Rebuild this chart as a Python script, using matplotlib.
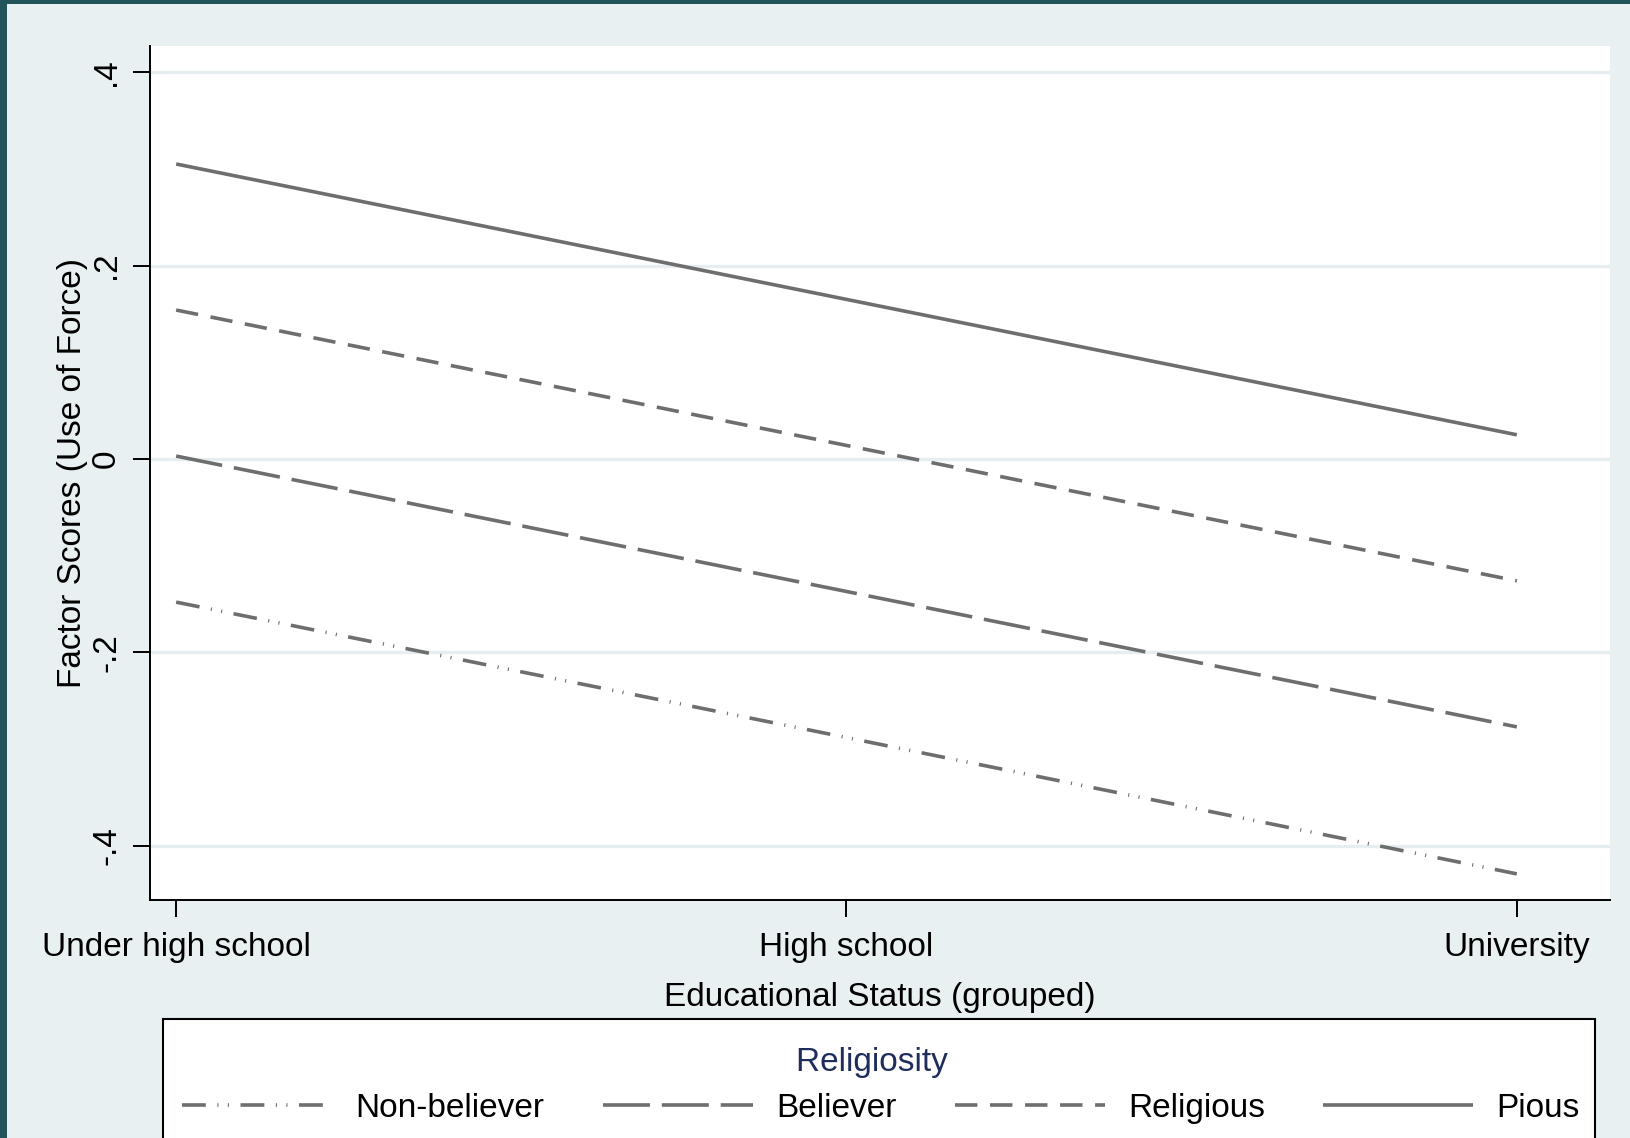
import matplotlib.pyplot as plt
from matplotlib.patches import Rectangle

plt.rcParams['font.family'] = ['Liberation Sans', 'DejaVu Sans']

# predicted factor scores by education, one series per religiosity group
education = ['Under high school', 'High school', 'University']
groups = ['Non-believer', 'Believer', 'Religious', 'Pious']
scores = {
    'Non-believer': [-0.148, -0.288, -0.429],
    'Believer': [0.003, -0.137, -0.277],
    'Religious': [0.154, 0.014, -0.126],
    'Pious': [0.305, 0.165, 0.025],
}
yticks = [-0.4, -0.2, 0, 0.2, 0.4]
ytick_labels = ['-.4', '-.2', '0', '.2', '.4']

# dash patterns (in linewidth units)
styles = {
    'Non-believer': (0, (6.6, 3.2, 0.3, 2.6, 0.3, 3.2)),
    'Believer': (0, (13.0, 3.3)),
    'Religious': (0, (6.2, 3.5)),
    'Pious': '-',
}

bg = '#e9f0f2'
line_color = '#6e6e6e'
W, H = 1631, 1138

fig = plt.figure(figsize=(W / 100, H / 100), dpi=100, facecolor=bg)
fig.patches.append(Rectangle((0, 0), 7 / W, 1, transform=fig.transFigure,
                             facecolor='#22555a', edgecolor='none', zorder=5))
fig.patches.append(Rectangle((0, 1 - 4 / H), 1, 4 / H, transform=fig.transFigure,
                             facecolor='#22555a', edgecolor='none', zorder=5))

ax = fig.add_axes([150 / W, 1 - 900 / H, 1460 / W, 854 / H])
ax.set_facecolor('white')

x = [1, 2, 3]
for g in groups:
    ax.plot(x, scores[g], color=line_color, lw=2.6, linestyle=styles[g],
            dash_capstyle='butt', solid_capstyle='butt', label=g)

for yv in yticks:
    ax.axhline(yv, color='#e6eef1', lw=2.4, zorder=0)

ax.set_xlim(0.961, 3.139)
ax.set_ylim(-0.456, 0.427)
ax.set_xticks(x)
ax.set_xticklabels(education, fontsize=24)
ax.set_yticks(yticks)
ax.set_yticklabels(ytick_labels, fontsize=24, rotation=90, va='center')
ax.tick_params(axis='both', length=12, width=1.4, direction='out')
ax.tick_params(axis='x', pad=11)
ax.tick_params(axis='y', pad=8)

for side in ['top', 'right']:
    ax.spines[side].set_visible(False)
for side in ['left', 'bottom']:
    ax.spines[side].set_linewidth(1.4)

ax.set_xlabel('Educational Status (grouped)', fontsize=24, labelpad=14)
ax.set_ylabel('Factor Scores (Use of Force)', fontsize=24, labelpad=2)

# legend box runs past the bottom edge of the figure
fig.patches.append(Rectangle((163 / W, -0.05), (1595 - 163) / W, 0.05 + 1 - 1019 / H,
                             transform=fig.transFigure, facecolor='white',
                             edgecolor='black', lw=1.5, zorder=1))

leg = fig.legend(loc='upper center', bbox_to_anchor=(881 / W, 1 - 1047 / H),
                 ncol=4, fontsize=24, title='Religiosity  ', title_fontsize=24,
                 handlelength=4.5, handletextpad=0.7, columnspacing=1.75,
                 borderpad=0, labelspacing=0.45, borderaxespad=0, frameon=False)
leg.set_zorder(6)
leg.get_title().set_color('#1f2d5c')

fig.savefig('out.png', dpi=100, facecolor=bg)
